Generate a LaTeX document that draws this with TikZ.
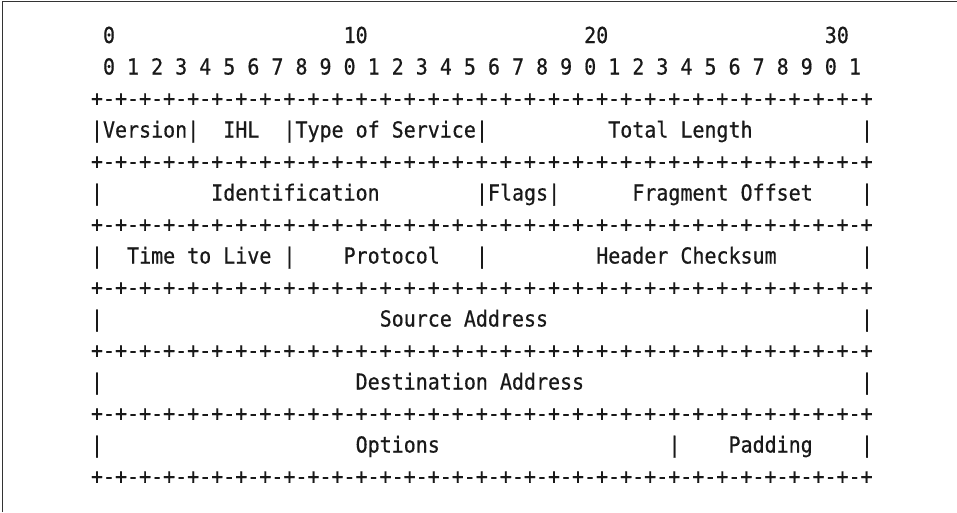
\documentclass[tikz,border=0pt]{standalone}
\usepackage{fontspec}
\newfontfamily\asciifont[FakeStretch=0.908,FakeBold=0.6]{DejaVu Sans Mono}
\tikzset{
  asc/.style={font=\asciifont\fontsize{22}{22}\selectfont, inner sep=0pt, outer sep=0pt, anchor=base west, text=black!90},
  framepen/.style={line width=1.3pt, draw=black!80}
}
\newcommand\sepline{+-+-+-+-+-+-+-+-+-+-+-+-+-+-+-+-+-+-+-+-+-+-+-+-+-+-+-+-+-+-+-+-+}
\begin{document}
\begin{tikzpicture}
\useasboundingbox (0pt,0pt) rectangle (957pt,-512pt);
\fill[white] (0pt,0pt) rectangle (957pt,-512pt);
\draw[framepen] (2.7pt,-512pt) -- (2.7pt,-1.8pt) -- (957pt,-1.8pt);
\begin{scope}[shift={(90.985pt,-43pt)}, x=12.03pt, y=-31.5pt]
  % bit scale
  \node[asc] (t0)  at (1,0)  {0};
  \node[asc] (t10) at (21,0) {10};
  \node[asc] (t20) at (41,0) {20};
  \node[asc] (t30) at (61,0) {30};
  \foreach \i in {0,...,31} {
    \pgfmathtruncatemacro\dg{mod(\i,10)}
    \node[asc] (d\i) at ({2*\i+1},1) {\dg};
  }
  % separator lines
  \foreach \r in {2,4,6,8,10,12,14} {
    \node[asc] (s\r) at (0,\r) {\sepline};
  }
  % row 1 of header
  \foreach \c in {0,8,16,32,64} { \node[asc] (ba\c) at (\c,3) {|}; }
  \node[asc] (version) at (1,3)  {Version};
  \node[asc] (ihl)     at (11,3) {IHL};
  \node[asc] (tos)     at (17,3) {Type of Service};
  \node[asc] (totlen)  at (43,3) {Total Length};
  % row 2
  \foreach \c in {0,32,38,64} { \node[asc] (bb\c) at (\c,5) {|}; }
  \node[asc] (ident)   at (10,5) {Identification};
  \node[asc] (flags)   at (33,5) {Flags};
  \node[asc] (fragoff) at (45,5) {Fragment Offset};
  % row 3
  \foreach \c in {0,16,32,64} { \node[asc] (bc\c) at (\c,7) {|}; }
  \node[asc] (ttl)     at (3,7)  {Time to Live};
  \node[asc] (proto)   at (21,7) {Protocol};
  \node[asc] (hcs)     at (42,7) {Header Checksum};
  % row 4
  \foreach \c in {0,64} { \node[asc] (bd\c) at (\c,9) {|}; }
  \node[asc] (src)     at (24,9) {Source Address};
  % row 5
  \foreach \c in {0,64} { \node[asc] (be\c) at (\c,11) {|}; }
  \node[asc] (dst)     at (22,11) {Destination Address};
  % row 6
  \foreach \c in {0,48,64} { \node[asc] (bf\c) at (\c,13) {|}; }
  \node[asc] (opts)    at (22,13) {Options};
  \node[asc] (pad)     at (53,13) {Padding};
\end{scope}
\end{tikzpicture}
\end{document}
